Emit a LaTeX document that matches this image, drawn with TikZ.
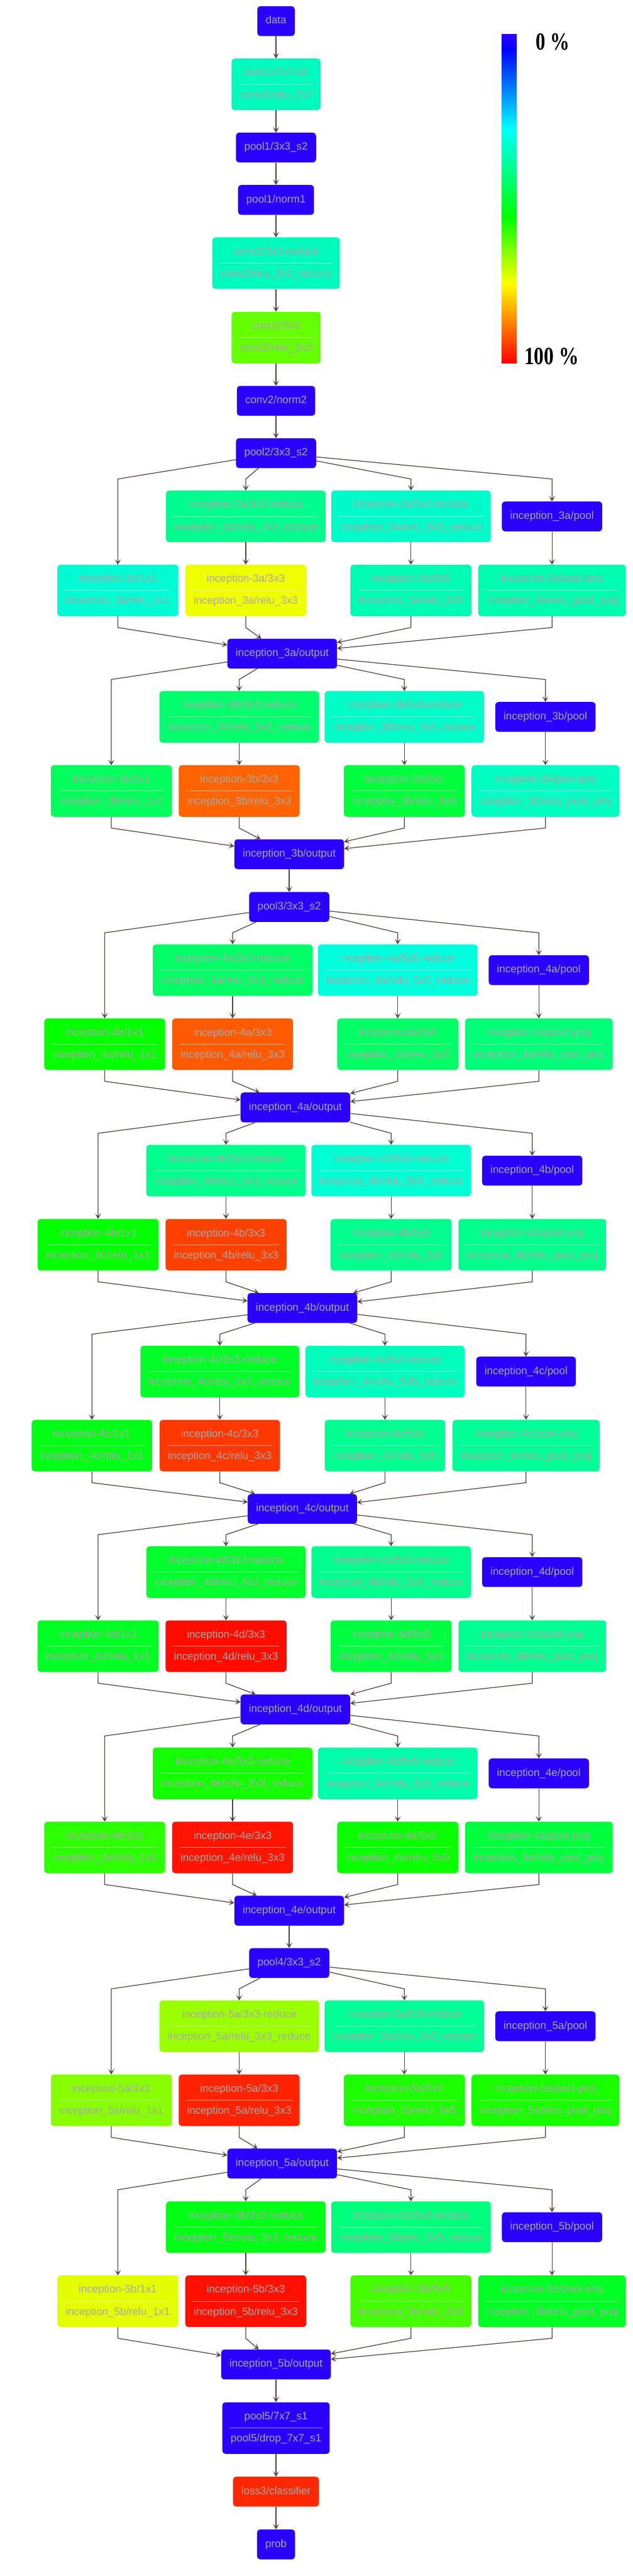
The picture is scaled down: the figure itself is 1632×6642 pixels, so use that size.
\documentclass[tikz,border=0pt]{standalone}
\usepackage{fontspec}
\setmainfont{Liberation Sans}
\newfontfamily\cbfont{Liberation Serif}
\usepackage{graphicx}
\usetikzlibrary{arrows.meta}

\definecolor{blu}{RGB}{42,0,255}
\definecolor{txtgray}{RGB}{168,168,168}
\definecolor{edgecol}{RGB}{90,68,60}
\definecolor{cconv1}{RGB}{0,250,190}
\definecolor{cconv2r}{RGB}{0,250,190}
\definecolor{cconv2}{RGB}{102,255,0}
\definecolor{closs}{RGB}{255,40,0}
% 3a
\definecolor{c3ar3}{RGB}{0,252,140}\definecolor{c3ar5}{RGB}{0,252,200}
\definecolor{c3aa}{RGB}{0,252,210}\definecolor{c3ab}{RGB}{240,255,0}
\definecolor{c3ac}{RGB}{0,252,180}\definecolor{c3ad}{RGB}{0,252,175}
% 3b
\definecolor{c3br3}{RGB}{0,255,110}\definecolor{c3br5}{RGB}{0,255,200}
\definecolor{c3ba}{RGB}{0,255,90}\definecolor{c3bb}{RGB}{255,100,0}
\definecolor{c3bc}{RGB}{0,255,60}\definecolor{c3bd}{RGB}{0,255,195}
% 4a
\definecolor{c4ar3}{RGB}{0,255,100}\definecolor{c4ar5}{RGB}{0,255,220}
\definecolor{c4aa}{RGB}{5,255,0}\definecolor{c4ab}{RGB}{255,90,0}
\definecolor{c4ac}{RGB}{0,255,100}\definecolor{c4ad}{RGB}{0,255,120}
% 4b
\definecolor{c4br3}{RGB}{0,255,140}\definecolor{c4br5}{RGB}{0,255,210}
\definecolor{c4ba}{RGB}{0,255,0}\definecolor{c4bb}{RGB}{255,65,0}
\definecolor{c4bc}{RGB}{0,255,140}\definecolor{c4bd}{RGB}{0,255,140}
% 4c
\definecolor{c4cr3}{RGB}{0,255,40}\definecolor{c4cr5}{RGB}{0,255,190}
\definecolor{c4ca}{RGB}{0,255,20}\definecolor{c4cb}{RGB}{255,55,0}
\definecolor{c4cc}{RGB}{0,255,145}\definecolor{c4cd}{RGB}{0,255,150}
% 4d
\definecolor{c4dr3}{RGB}{0,255,45}\definecolor{c4dr5}{RGB}{0,255,140}
\definecolor{c4da}{RGB}{0,255,35}\definecolor{c4db}{RGB}{255,12,0}
\definecolor{c4dc}{RGB}{0,255,65}\definecolor{c4dd}{RGB}{0,255,145}
% 4e
\definecolor{c4er3}{RGB}{20,255,0}\definecolor{c4er5}{RGB}{0,255,170}
\definecolor{c4ea}{RGB}{45,255,0}\definecolor{c4eb}{RGB}{255,20,0}
\definecolor{c4ec}{RGB}{10,255,0}\definecolor{c4ed}{RGB}{0,255,60}
% 5a
\definecolor{c5ar3}{RGB}{155,255,0}\definecolor{c5ar5}{RGB}{0,255,150}
\definecolor{c5aa}{RGB}{135,255,0}\definecolor{c5ab}{RGB}{255,35,0}
\definecolor{c5ac}{RGB}{30,255,0}\definecolor{c5ad}{RGB}{25,255,0}
% 5b
\definecolor{c5br3}{RGB}{0,255,20}\definecolor{c5br5}{RGB}{0,255,125}
\definecolor{c5ba}{RGB}{228,255,0}\definecolor{c5bb}{RGB}{255,15,0}
\definecolor{c5bc}{RGB}{70,255,0}\definecolor{c5bd}{RGB}{0,255,35}

\tikzset{
  lay/.style={rounded corners=8pt, text=txtgray, inner xsep=21.5pt, inner ysep=0pt,
    font=\fontsize{27.5}{57}\selectfont},
  sbox/.style={lay, minimum height=77pt, text height=20pt, text depth=6pt},
  dbox/.style={lay, minimum height=133pt, align=center},
  divider/.style={draw=white, draw opacity=0.5, line width=1.6pt},
  edge/.style={draw=edgecol, line width=2pt, -{Stealth[length=14pt,width=16pt,inset=7pt]}},
  cblabel/.style={anchor=base, inner sep=0pt, font=\cbfont\bfseries\fontsize{64}{70}\selectfont, text=black},
}

\newcommand\snode[5]{\node[sbox,fill=#4] (#1) at (#2,#3+38.5) {#5};}
\newcommand\dnode[6]{\node[dbox,fill=#4] (#1) at (#2,#3+66.5)
  {\rule{0pt}{20pt}#5\\#6\rule[-6pt]{0pt}{6pt}};
  \draw[divider] ([xshift=19pt]#1.west) -- ([xshift=-19pt]#1.east);}

% #1 id, #2 x of 3x3 column, #3 top of first row, #4 x of output, #5 source node
\newcommand\incblock[5]{%
  \dnode{i#1r3}{#2}{#3}{c#1r3}{inception-#1/3x3-reduce}{inception\_#1/relu\_3x3\_reduce}
  \dnode{i#1r5}{#2+426}{#3}{c#1r5}{inception-#1/5x5-reduce}{inception\_#1/relu\_5x5\_reduce}
  \snode{i#1pool}{#2+790}{#3+28}{blu}{inception\_#1/pool}
  \dnode{i#1a}{#2-330}{#3+191}{c#1a}{inception-#1/1x1}{inception\_#1/relu\_1x1}
  \dnode{i#1b}{#2}{#3+191}{c#1b}{inception-#1/3x3}{inception\_#1/relu\_3x3}
  \dnode{i#1c}{#2+426}{#3+191}{c#1c}{inception-#1/5x5}{inception\_#1/relu\_5x5}
  \dnode{i#1d}{#2+790}{#3+191}{c#1d}{inception-#1/pool-proj}{inception\_#1/relu\_pool\_proj}
  \snode{i#1out}{#4}{#3+382}{blu}{inception\_#1/output}
  \draw[edge] (#5) -- (#2-330,#3-30) -- (i#1a);
  \draw[edge] (#5) -- (#2,#3-30) -- (i#1r3);
  \draw[edge] (#5) -- (#2+426,#3-30) -- (i#1r5);
  \draw[edge] (#5) -- (#2+790,#3-30) -- (i#1pool);
  \draw[edge] (i#1r3) -- (i#1b);
  \draw[edge] (i#1r5) -- (i#1c);
  \draw[edge] (i#1pool) -- (i#1d);
  \draw[edge] (i#1a) -- (#2-330,#3+353) -- (i#1out);
  \draw[edge] (i#1b) -- (#2,#3+353) -- (i#1out);
  \draw[edge] (i#1c) -- (#2+426,#3+353) -- (i#1out);
  \draw[edge] (i#1d) -- (#2+790,#3+353) -- (i#1out);
}

\begin{document}
\begin{tikzpicture}[x=1pt,y=-1pt]
\useasboundingbox (0,0) rectangle (1632,6642);
\fill[white] (0,0) rectangle (1632,6642);

% colour bar
\shade[top color={rgb,255:red,45;green,0;blue,255}, bottom color={rgb,255:red,0;green,0;blue,255}] (1294,89) rectangle (1333,125.5);
\shade[top color={rgb,255:red,0;green,0;blue,255}, bottom color={rgb,255:red,0;green,255;blue,255}] (1294,125) rectangle (1333,332.5);
\shade[top color={rgb,255:red,0;green,255;blue,255}, bottom color={rgb,255:red,0;green,255;blue,0}] (1294,332) rectangle (1333,560.5);
\shade[top color={rgb,255:red,0;green,255;blue,0}, bottom color={rgb,255:red,255;green,255;blue,0}] (1294,560) rectangle (1333,731.5);
\shade[top color={rgb,255:red,255;green,255;blue,0}, bottom color={rgb,255:red,255;green,0;blue,0}] (1294,731) rectangle (1333,937);
\node[cblabel] (cbtop) at (1426,129) {\scalebox{0.78}[1]{0 \%}};
\node[cblabel] (cbbot) at (1423,939) {\scalebox{0.8}[1]{100 \%}};

% stem
\snode{data}{712}{16}{blu}{data}
\dnode{conv1}{712}{151}{cconv1}{conv1/7x7-s2}{conv1/relu\_7x7}
\snode{pool1}{712}{342}{blu}{pool1/3x3\_s2}
\snode{norm1}{712}{477}{blu}{pool1/norm1}
\dnode{conv2r}{712}{612}{cconv2r}{conv2/3x3-reduce}{conv2/relu\_3x3\_reduce}
\dnode{conv2}{712}{804}{cconv2}{conv2/3x3}{conv2/relu\_3x3}
\snode{norm2}{712}{995}{blu}{conv2/norm2}
\snode{pool2}{712}{1130}{blu}{pool2/3x3\_s2}
\draw[edge] (data) -- (conv1);
\draw[edge] (conv1) -- (pool1);
\draw[edge] (pool1) -- (norm1);
\draw[edge] (norm1) -- (conv2r);
\draw[edge] (conv2r) -- (conv2);
\draw[edge] (conv2) -- (norm2);
\draw[edge] (norm2) -- (pool2);

\incblock{3a}{634}{1265}{728}{pool2}
\incblock{3b}{617}{1782}{746}{i3aout}
\snode{pool3}{746}{2300}{blu}{pool3/3x3\_s2}
\draw[edge] (i3bout) -- (pool3);
\incblock{4a}{600}{2435}{762}{pool3}
\incblock{4b}{583}{2952}{780}{i4aout}
\incblock{4c}{567}{3470}{780}{i4bout}
\incblock{4d}{583}{3987}{762}{i4cout}
\incblock{4e}{600}{4506}{746}{i4dout}
\snode{pool4}{746}{5023}{blu}{pool4/3x3\_s2}
\draw[edge] (i4eout) -- (pool4);
\incblock{5a}{617}{5158}{728}{pool4}
\incblock{5b}{634}{5676}{712}{i5aout}

\dnode{pool5}{712}{6194}{blu}{pool5/7x7\_s1}{pool5/drop\_7x7\_s1}
\snode{loss3}{712}{6386}{closs}{loss3/classifier}
\snode{prob}{712}{6522}{blu}{prob}
\draw[edge] (i5bout) -- (pool5);
\draw[edge] (pool5) -- (loss3);
\draw[edge] (loss3) -- (prob);
\end{tikzpicture}
\end{document}
